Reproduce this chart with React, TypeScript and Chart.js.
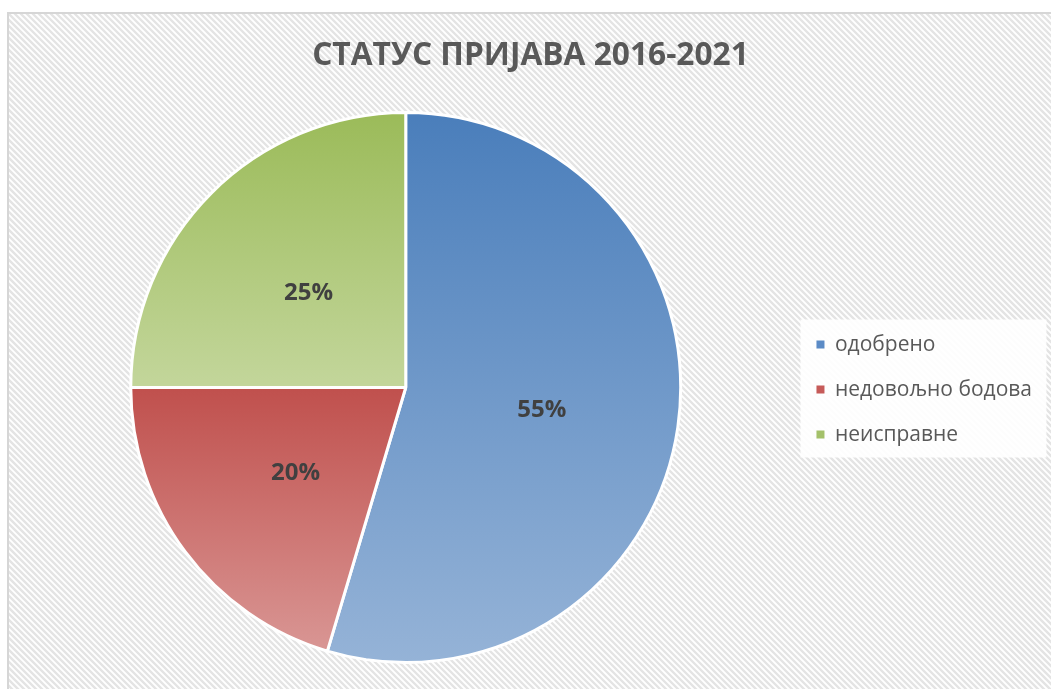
import React, { useEffect, useRef } from "react";
import { Chart, registerables } from "chart.js";

Chart.register(...registerables);

const categories = ["одобрено", "недовољно бодова", "неисправне"];
const shares = [54.6, 20.4, 25.0];
const titleText = "СТАТУС ПРИЈАВА 2016-2021";
const topColors = ["#4a7ebb", "#c0504d", "#9bbb59"];
const bottomColors = ["#95b3d7", "#d99694", "#c3d69b"];
const legendColors = ["#5b8bc6", "#c65b59", "#a4c16a"];

const FONT = "'Open Sans', 'Noto Sans', sans-serif";
const BORDER_W = 3;

function sliceAngles(i: number) {
  const total = shares.reduce((a, b) => a + b, 0);
  let a0 = -Math.PI / 2;
  for (let j = 0; j < i; j++) a0 += (shares[j] / total) * Math.PI * 2;
  const a1 = a0 + (shares[i] / total) * Math.PI * 2;
  return [a0, a1];
}

const backgroundPlugin = {
  id: "hatchBackground",
  beforeDraw(chart: any) {
    const { ctx, width, height } = chart;
    ctx.save();
    ctx.fillStyle = "#ffffff";
    ctx.fillRect(0, 0, width, height);
    ctx.beginPath();
    for (let k = -height; k < width + 6; k += 6) {
      ctx.moveTo(k, 0);
      ctx.lineTo(k + height, height);
    }
    ctx.strokeStyle = "#e4e4e4";
    ctx.lineWidth = 2.4;
    ctx.stroke();
    // frame
    ctx.strokeStyle = "#d6d6d6";
    ctx.lineWidth = 2;
    ctx.beginPath();
    ctx.moveTo(1, height);
    ctx.lineTo(1, 1);
    ctx.lineTo(width, 1);
    ctx.stroke();
    // legend backdrop
    const lg = chart.legend;
    const area = chart.chartArea;
    if (lg && area) {
      const cy = (area.top + area.bottom) / 2;
      ctx.fillStyle = "rgba(255,255,255,0.9)";
      ctx.fillRect(lg.left + 8, cy - 68, 246, 138);
    }
    ctx.restore();
  },
};

const labelPlugin = {
  id: "sliceLabels",
  afterDatasetsDraw(chart: any) {
    const meta = chart.getDatasetMeta(0);
    const total = shares.reduce((a, b) => a + b, 0);
    const ctx = chart.ctx;
    ctx.save();
    ctx.font = `bold 24px ${FONT}`;
    ctx.fillStyle = "#404040";
    ctx.textAlign = "center";
    ctx.textBaseline = "middle";
    meta.data.forEach((arc: any, i: number) => {
      const p = arc.getCenterPoint();
      ctx.fillText(Math.round((shares[i] / total) * 100) + "%", p.x, p.y + 3);
    });
    ctx.restore();
  },
};

export default function App() {
  const ref = useRef<HTMLCanvasElement | null>(null);

  useEffect(() => {
    let chart: Chart | null = null;
    let cancelled = false;
    const make = () => {
      if (cancelled || !ref.current) return;
      chart = new Chart(ref.current, {
        type: "pie",
        data: {
          labels: categories,
          datasets: [
            {
              data: shares,
              borderColor: "#ffffff",
              borderWidth: BORDER_W,
              hoverOffset: 0,
              backgroundColor: (c: any) => {
                const i = c.dataIndex ?? 0;
                const area = c.chart.chartArea;
                if (!area) return topColors[i];
                const cy = (area.top + area.bottom) / 2;
                const r = (Math.min(area.width, area.height) - BORDER_W) / 2;
                const [a0, a1] = sliceAngles(i);
                const ys = [cy, cy + r * Math.sin(a0), cy + r * Math.sin(a1)];
                [-Math.PI / 2, Math.PI / 2, (3 * Math.PI) / 2].forEach((k) => {
                  if (k > a0 && k < a1) ys.push(cy + r * Math.sin(k));
                });
                const g = c.chart.ctx.createLinearGradient(0, Math.min(...ys), 0, Math.max(...ys));
                g.addColorStop(0, topColors[i]);
                g.addColorStop(1, bottomColors[i]);
                return g;
              },
            },
          ],
        },
        options: {
          animation: false,
          responsive: false,
          devicePixelRatio: 1,
          layout: { padding: { left: 12, right: 20, top: 0, bottom: 38 } },
          plugins: {
            title: {
              display: true,
              text: titleText,
              color: "#595959",
              font: { family: FONT, size: 31.7, weight: "bold", lineHeight: 1.2 },
              padding: { top: 25, bottom: 36 },
            },
            legend: {
              position: "right",
              fullSize: false,
              title: {
                display: true,
                text: "",
                font: { family: FONT, size: 1, lineHeight: 1 },
                padding: { top: 3, bottom: 0 },
              },
              labels: {
                boxWidth: 8,
                boxHeight: 8,
                padding: 24,
                color: "#595959",
                font: { family: FONT, size: 21 },
                generateLabels: () =>
                  categories.map((text, i) => ({
                    text,
                    fillStyle: legendColors[i],
                    strokeStyle: legendColors[i],
                    lineWidth: 0,
                    hidden: false,
                    index: i,
                    fontColor: "#595959",
                  })),
              },
            },
            tooltip: { enabled: false },
          },
        },
        plugins: [backgroundPlugin, labelPlugin],
      });
    };
    const fonts: any = (document as any).fonts;
    if (fonts && fonts.load) {
      Promise.all([
        fonts.load(`bold 32px 'Open Sans'`, titleText),
        fonts.load(`21px 'Open Sans'`, categories.join("")),
      ])
        .catch(() => {})
        .then(make);
    } else {
      make();
    }
    return () => {
      cancelled = true;
      if (chart) chart.destroy();
    };
  }, []);

  return (
    <div style={{ position: "fixed", inset: 0, overflow: "hidden", background: "#ffffff" }}>
      <canvas
        ref={ref}
        width={1055}
        height={690}
        style={{ position: "absolute", left: 7, top: 12, display: "block", width: 1055, height: 690 }}
      />
    </div>
  );
}
